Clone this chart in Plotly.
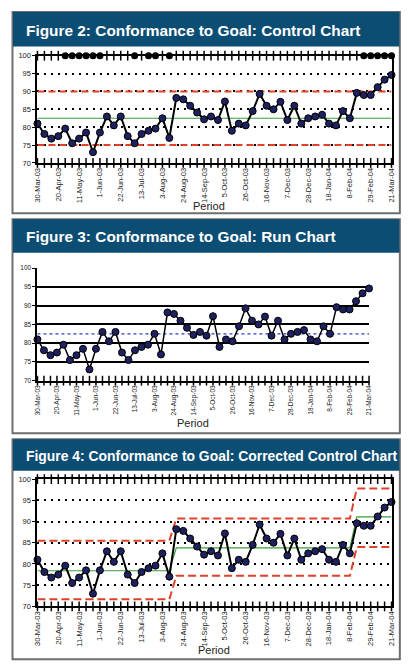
import pandas as pd
import plotly.graph_objects as go

# ---------------- data ----------------
weeks = pd.date_range("2003-03-30", periods=52, freq="7D")  # weekly periods
tick_labels = ["30-Mar-03", "20-Apr-03", "11-May-03", "1-Jun-03", "22-Jun-03",
               "13-Jul-03", "3-Aug-03", "24-Aug-03", "14-Sep-03", "5-Oct-03",
               "26-Oct-03", "16-Nov-03", "7-Dec-03", "28-Dec-03", "18-Jan-04",
               "8-Feb-04", "29-Feb-04", "21-Mar-04"]
conformance = [81.0, 78.1, 76.8, 77.5, 79.6, 75.5, 76.8, 78.5, 73.0, 78.5,
               83.0, 80.5, 83.0, 77.5, 75.5, 78.1, 79.0, 79.6, 82.5, 77.0,
               88.2, 87.8, 86.0, 84.1, 82.2, 83.0, 82.0, 87.2, 79.0, 81.0,
               80.5, 84.5, 89.3, 86.0, 85.0, 87.1, 82.0, 86.0, 81.0, 82.5,
               83.0, 83.5, 81.0, 80.5, 84.5, 82.5, 89.6, 89.0, 89.0, 91.2,
               93.3, 94.6]
signal_weeks = [4, 5, 6, 7, 8, 9, 14, 16, 17, 19, 47, 48, 49, 50, 51]
signal_level = 100

cc_center = 82.5
cc_ucl = 90.0
cc_lcl = 75.0
run_center = 82.5

phase_lengths = [20, 26, 6]
phase_center = [78.4, 83.8, 91.1]
phase_ucl = [85.5, 90.7, 97.8]
phase_lcl = [71.7, 77.2, 84.0]

y_ticks = [70, 75, 80, 85, 90, 95, 100]

# ---------------- helpers ----------------
W, H = 411, 669
OFF = 8  # page body margin offset

def px(x):
    return (x - OFF) / W

def py(y):
    return 1 - (y - OFF) / H

def expand(vals):
    out = []
    for v, n in zip(vals, phase_lengths):
        out += [v] * n
    return out

RED = "#e0412b"
GREEN = "#3c9a3c"
NAVY = "#1e2160"
HEAD = "#0b4d73"
FONT = "Liberation Sans, Arial, sans-serif"

fig = go.Figure()

def data_trace(xa, ya, lw=2, ms=7):
    fig.add_trace(go.Scatter(x=weeks, y=conformance, xaxis=xa, yaxis=ya,
                             mode="lines+markers", cliponaxis=False,
                             line=dict(color="black", width=lw),
                             marker=dict(symbol="circle", size=ms, color=NAVY,
                                         line=dict(color="black", width=1))))

def hline(xa, ya, vals, color, width, dash):
    fig.add_trace(go.Scatter(x=weeks, y=vals, xaxis=xa, yaxis=ya, mode="lines",
                             cliponaxis=False,
                             line=dict(color=color, width=width, dash=dash)))

def cross_ticks(xa, ya, level, skip=()):
    xs = [w for i, w in enumerate(weeks) if i not in skip]
    fig.add_trace(go.Scatter(x=xs, y=[level] * len(xs), xaxis=xa, yaxis=ya,
                             mode="markers", cliponaxis=False,
                             marker=dict(symbol="line-ns", size=7,
                                         line=dict(color="black", width=1.5))))

# ---- Figure 2: control chart ----
hline("x", "y", [cc_ucl] * len(weeks), RED, 2, "7px,4px")
hline("x", "y", [cc_lcl] * len(weeks), RED, 2, "7px,4px")
hline("x", "y", [cc_center] * len(weeks), GREEN, 1.2, "solid")
cross_ticks("x", "y", 70)
cross_ticks("x", "y", 100, skip=signal_weeks)
fig.add_trace(go.Scatter(x=[weeks[i] for i in signal_weeks],
                         y=[signal_level] * len(signal_weeks), xaxis="x", yaxis="y",
                         mode="markers", cliponaxis=False,
                         marker=dict(symbol="circle", size=7, color="black")))
data_trace("x", "y")

# ---- Figure 3: run chart ----
hline("x2", "y2", [run_center] * len(weeks), "#2a3cc8", 1.2, "dot")
cross_ticks("x2", "y2", 70)
data_trace("x2", "y2", lw=1.5, ms=7)

# ---- Figure 4: corrected control chart ----
hline("x3", "y3", expand(phase_ucl), RED, 2, "8px,4px")
hline("x3", "y3", expand(phase_lcl), RED, 2, "8px,4px")
hline("x3", "y3", expand(phase_center), GREEN, 1.2, "solid")
cross_ticks("x3", "y3", 70)
cross_ticks("x3", "y3", 100)
data_trace("x3", "y3")

# ---------------- axes ----------------
def xaxis(domain, anchor, mirror, fsize):
    return dict(domain=domain, anchor=anchor, type="date",
                range=[weeks[0], weeks[-1]], tickmode="array",
                tickvals=list(weeks[::3]), ticktext=tick_labels, tickangle=-90,
                tickfont=dict(family=FONT, size=fsize, color="#222"),
                showline=True, linecolor="black", linewidth=2, mirror=mirror,
                showgrid=False, zeroline=False, ticks="")

def yaxis(domain, anchor, mirror, grid_dash, grid_w, fsize):
    return dict(domain=domain, anchor=anchor, range=[70, 100], tickmode="array",
                tickvals=y_ticks, ticks="outside", ticklen=3, tickcolor="black",
                tickfont=dict(family=FONT, size=fsize, color="#222"),
                showline=True, linecolor="black", linewidth=2, mirror=mirror,
                showgrid=True, gridcolor="black", gridwidth=grid_w,
                griddash=grid_dash, zeroline=False)

fig.update_layout(
    width=W, height=H, autosize=False,
    margin=dict(l=0, r=0, t=0, b=0),
    paper_bgcolor="white", plot_bgcolor="white",
    showlegend=False,
    xaxis=xaxis([px(33), px(395)], "y", True, 7.5),
    yaxis=yaxis([py(161), py(52.3)], "x", True, "2px,5px", 1.5, 7.5),
    xaxis2=xaxis([px(33), px(372)], "y2", False, 6.5),
    yaxis2=yaxis([py(381.7), py(267.7)], "x2", False, "solid", 1.5, 6.5),
    xaxis3=xaxis([px(33), px(395)], "y3", True, 7.5),
    yaxis3=yaxis([py(610.5), py(481.5)], "x3", True, "2px,5px", 1.5, 7.5),
)

# ---------------- panels & headers ----------------
panels = [  # (top, bottom, header bottom, title, title size, period y, period x)
    (8, 212, 43, "Figure 2: Conformance to Goal: Control Chart", 15.4, 205, 208),
    (218, 435, 252, "Figure 3: Conformance to Goal: Run Chart", 15.4, 425, 192),
    (441, 664, 473, "Figure 4: Conformance to Goal: Corrected Control Chart", 13.9, 655, 213),
]
shapes = []
annotations = []
for top, bottom, hb, title, tsize, pl_y, pl_x in panels:
    shapes.append(dict(type="rect", xref="paper", yref="paper",
                       x0=px(7.5), x1=px(403.5), y0=py(bottom), y1=py(top),
                       line=dict(color="#6e6e6e", width=2), fillcolor="rgba(0,0,0,0)"))
    shapes.append(dict(type="rect", xref="paper", yref="paper",
                       x0=px(8), x1=px(403), y0=py(hb), y1=py(top),
                       line=dict(width=0), fillcolor=HEAD))
    annotations.append(dict(xref="paper", yref="paper", x=px(19), y=py((top + hb) / 2 + 1),
                            xanchor="left", yanchor="middle", showarrow=False,
                            text="<b>" + title + "</b>",
                            font=dict(family=FONT, size=tsize, color="white")))
    annotations.append(dict(xref="paper", yref="paper", x=px(pl_x), y=py(pl_y),
                            xanchor="center", yanchor="middle", showarrow=False,
                            text="Period",
                            font=dict(family=FONT, size=11, color="#222")))
fig.update_layout(shapes=shapes, annotations=annotations)

fig.write_html("out.html")
